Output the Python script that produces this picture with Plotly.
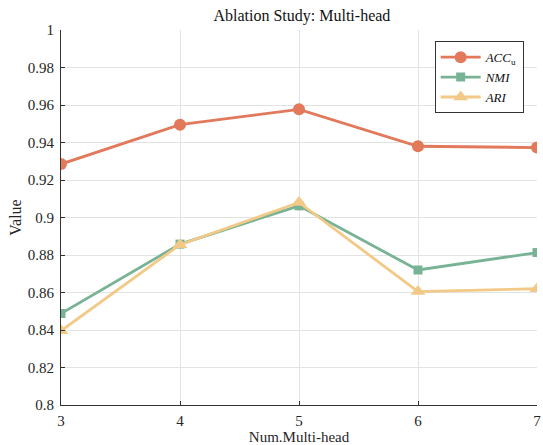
import plotly.graph_objects as go

heads = [3, 4, 5, 6, 7]
acc_u = [0.9285, 0.9495, 0.9577, 0.938, 0.9373]
nmi = [0.8488, 0.8858, 0.9062, 0.872, 0.8813]
ari = [0.8396, 0.8855, 0.908, 0.8605, 0.862]
y_ticks = [0.8, 0.82, 0.84, 0.86, 0.88, 0.9, 0.92, 0.94, 0.96, 0.98, 1.0]
y_tick_text = ["0.8", "0.82", "0.84", "0.86", "0.88", "0.9", "0.92", "0.94", "0.96", "0.98", "1"]

FONT = "Liberation Serif"

fig = go.Figure()
fig.add_trace(go.Scatter(x=heads, y=acc_u, mode="lines+markers",
                         name="<i>ACC</i><sub>u</sub>",
                         line=dict(color="#E1795A", width=2.8),
                         marker=dict(symbol="circle", size=12, color="#E1795A")))
fig.add_trace(go.Scatter(x=heads, y=nmi, mode="lines+markers",
                         name="<i>NMI</i>",
                         line=dict(color="#79B396", width=2.8),
                         marker=dict(symbol="square", size=9, color="#79B396")))
fig.add_trace(go.Scatter(x=heads, y=ari, mode="lines+markers",
                         name="<i>ARI</i>",
                         line=dict(color="#F2C987", width=2.8),
                         marker=dict(symbol="triangle-up", size=13, color="#F2C987")))

fig.update_layout(
    width=543, height=445,
    margin=dict(l=61, r=2, t=30, b=40),
    paper_bgcolor="white", plot_bgcolor="white",
    font=dict(family=FONT, size=15, color="#262626"),
    title=dict(text="Ablation Study: Multi-head", x=0.556, xanchor="center",
               y=0.966, yanchor="middle", font=dict(family=FONT, size=16, color="#111")),
    showlegend=True,
    legend=dict(x=0.785, y=0.97, xanchor="left", yanchor="top",
                bgcolor="white", bordercolor="#333", borderwidth=1,
                font=dict(family=FONT, size=13, color="#111"),
                tracegroupgap=0, itemwidth=40),
    xaxis=dict(range=[3, 7], tickvals=heads, ticktext=[str(h) for h in heads],
               showgrid=True, gridcolor="#e3e3e3", gridwidth=1,
               showline=True, linecolor="#333", linewidth=1,
               ticks="inside", ticklen=4, tickcolor="#333",
               ticklabeloverflow="allow", ticklabelstandoff=2,
               zeroline=False, mirror=False,
               title=dict(text="Num.Multi-head", standoff=0, font=dict(family=FONT, size=15, color="#262626"))),
    yaxis=dict(range=[0.8, 1.0], tickvals=y_ticks, ticktext=y_tick_text,
               showgrid=True, gridcolor="#e3e3e3", gridwidth=1,
               showline=True, linecolor="#333", linewidth=1,
               ticks="inside", ticklen=4, tickcolor="#333",
               ticklabelstandoff=3,
               zeroline=False, mirror=False,
               title=dict(text="Value", standoff=2, font=dict(family=FONT, size=16, color="#262626"))),
)

fig.write_html("out.html")
